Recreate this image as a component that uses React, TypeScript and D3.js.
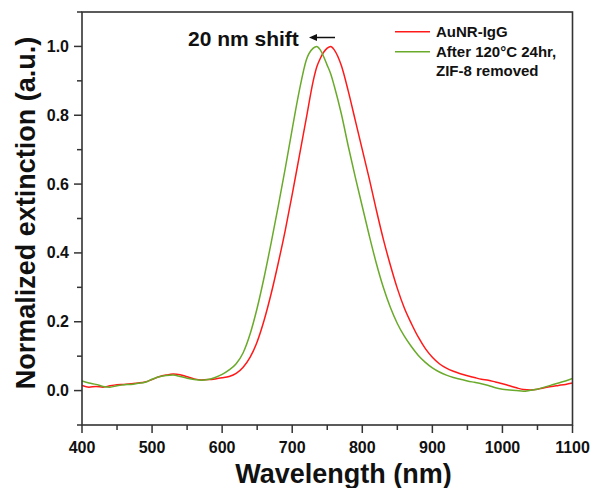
import React from "react";
import * as d3 from "d3";

const wavelengths = [
  400, 410, 420, 430, 440, 450, 460, 470, 480, 490, 500, 510, 520, 530, 540, 550, 560, 570, 580, 590,
  600, 610, 620, 630, 640, 650, 660, 670, 680, 690, 700, 710, 720, 730, 735, 740, 750, 755, 760, 770,
  780, 790, 800, 810, 820, 830, 840, 850, 860, 870, 880, 890, 900, 910, 920, 930, 940, 950, 960, 970,
  980, 990, 1000, 1010, 1020, 1030, 1040, 1050, 1060, 1070, 1080, 1090, 1100,
];

const aunrIgG = [
  0.015, 0.010, 0.012, 0.010, 0.014, 0.017, 0.018, 0.020, 0.022, 0.025, 0.032, 0.040, 0.045, 0.048, 0.046, 0.040, 0.034, 0.031, 0.032, 0.034,
  0.037, 0.041, 0.050, 0.068, 0.097, 0.142, 0.205, 0.282, 0.37, 0.465, 0.57, 0.68, 0.79, 0.90, 0.94, 0.965, 0.995, 1.0, 0.99, 0.945,
  0.87, 0.785, 0.70, 0.615, 0.525, 0.44, 0.365, 0.297, 0.24, 0.195, 0.155, 0.122, 0.097, 0.078, 0.065, 0.056, 0.049, 0.043, 0.038, 0.033,
  0.030, 0.025, 0.020, 0.014, 0.008, 0.003, 0.002, 0.004, 0.008, 0.012, 0.015, 0.018, 0.022,
];

const after120C = [
  0.028, 0.022, 0.018, 0.012, 0.010, 0.014, 0.017, 0.018, 0.021, 0.024, 0.033, 0.040, 0.044, 0.045, 0.041, 0.036, 0.032, 0.030, 0.032, 0.038,
  0.047, 0.060, 0.078, 0.110, 0.165, 0.24, 0.33, 0.43, 0.535, 0.645, 0.76, 0.87, 0.96, 0.995, 1.0, 0.99, 0.945, 0.92, 0.885, 0.805,
  0.71, 0.62, 0.535, 0.45, 0.37, 0.30, 0.242, 0.195, 0.158, 0.128, 0.102, 0.082, 0.066, 0.054, 0.045, 0.038, 0.033, 0.028, 0.024, 0.020,
  0.015, 0.008, 0.004, 0.002, 0.000, -0.002, 0.001, 0.004, 0.010, 0.016, 0.022, 0.028, 0.035,
];

const seriesNames = ["AuNR-IgG", "After 120°C 24hr,", "ZIF-8 removed"];
const xTicks = [400, 500, 600, 700, 800, 900, 1000, 1100];
const xMinor = [450, 550, 650, 750, 850, 950, 1050];
const yTicks = [0.0, 0.2, 0.4, 0.6, 0.8, 1.0];
const yMinor = [-0.1, 0.1, 0.3, 0.5, 0.7, 0.9, 1.1];

const W = 594;
const H = 488;
const L = 82, R = 572.5, T = 12, B = 425;
const RED = "#ff1a1a";
const GREEN = "#6aaa2a";
const AX = "#333";
const FONT = "'Liberation Sans', Arial, Helvetica, sans-serif";

export default function App() {
  const x = d3.scaleLinear().domain([400, 1100]).range([L, R]);
  const y = d3.scaleLinear().domain([-0.1, 1.1]).range([B, T]);
  const line = d3
    .line<number>()
    .x((_, i) => x(wavelengths[i]))
    .y((d) => y(d))
    .curve(d3.curveMonotoneX);

  return (
    <svg width={W} height={H} style={{ position: "absolute", left: 0, top: 0, background: "#fff" }} fontFamily={FONT}>
      <defs>
        <clipPath id="plot">
          <rect x={L} y={T} width={R - L} height={B - T} />
        </clipPath>
      </defs>
      <g clipPath="url(#plot)" fill="none" strokeWidth={1.5} strokeLinejoin="round">
        <path d={line(aunrIgG) || ""} stroke={RED} />
        <path d={line(after120C) || ""} stroke={GREEN} />
      </g>
      <rect x={L} y={T} width={R - L} height={B - T} fill="none" stroke={AX} strokeWidth={1.6} />
      {xTicks.map((t) => (
        <g key={"xt" + t}>
          <line x1={x(t)} x2={x(t)} y1={B} y2={B + 8} stroke={AX} strokeWidth={1.5} />
          <text x={x(t)} y={453} textAnchor="middle" fontSize={16} fontWeight="bold" fill="#111">
            {t}
          </text>
        </g>
      ))}
      {xMinor.map((t) => (
        <line key={"xm" + t} x1={x(t)} x2={x(t)} y1={B} y2={B + 5} stroke={AX} strokeWidth={1.5} />
      ))}
      {yTicks.map((t) => (
        <g key={"yt" + t}>
          <line x1={L - 8} x2={L} y1={y(t)} y2={y(t)} stroke={AX} strokeWidth={1.5} />
          <text x={L - 13} y={y(t) + 5.5} textAnchor="end" fontSize={16} fontWeight="bold" fill="#111">
            {d3.format(".1f")(t)}
          </text>
        </g>
      ))}
      {yMinor.map((t) => (
        <line key={"ym" + t} x1={L - 5} x2={L} y1={y(t)} y2={y(t)} stroke={AX} strokeWidth={1.5} />
      ))}
      <text x={343.5} y={483} textAnchor="middle" fontSize={27} fontWeight="bold" fill="#111">
        Wavelength (nm)
      </text>
      <text transform="translate(35,213) rotate(-90)" textAnchor="middle" fontSize={27} fontWeight="bold" fill="#111">
        Normalized extinction (a.u.)
      </text>
      <text x={188} y={46} fontSize={21} fontWeight="bold" fill="#111">
        20 nm shift
      </text>
      <line x1={312} x2={335} y1={37.5} y2={37.5} stroke="#111" strokeWidth={1.5} />
      <path d="M309,37.5 L317,34 L317,41 Z" fill="#111" />
      <line x1={395} x2={430} y1={31.7} y2={31.7} stroke={RED} strokeWidth={1.5} />
      <line x1={395} x2={430} y1={51.7} y2={51.7} stroke={GREEN} strokeWidth={1.5} />
      <text x={436} y={37} fontSize={15} fontWeight="bold" fill="#111">{seriesNames[0]}</text>
      <text x={436} y={57} fontSize={15} fontWeight="bold" fill="#111">{seriesNames[1]}</text>
      <text x={436} y={75.5} fontSize={15} fontWeight="bold" fill="#111">{seriesNames[2]}</text>
    </svg>
  );
}
